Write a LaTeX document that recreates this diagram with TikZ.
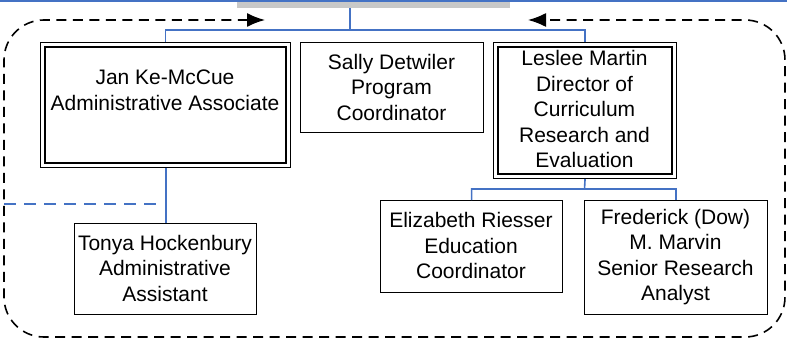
\documentclass[tikz,border=0pt]{standalone}
\usepackage{fontspec}
\setmainfont{Liberation Sans}
\usetikzlibrary{arrows.meta}
\definecolor{orgblue}{RGB}{68,114,196}
\definecolor{topgray}{RGB}{200,200,200}
\begin{document}
\begin{tikzpicture}[x=1pt,y=-1pt,
  box/.style={draw=black,line width=1.1pt,inner sep=0pt,anchor=north west},
  innerframe/.style={draw=black,line width=1.6pt},
  txt/.style={align=center,inner sep=0pt,font=\fontsize{21}{25.5}\selectfont},
  link/.style={draw=orgblue,line width=1.6pt},
  bluedash/.style={draw=orgblue,line width=1.5pt,dash pattern=on 12pt off 8pt},
  fbloop/.style={draw=black,line width=1.6pt,dash pattern=on 10pt off 6.5pt,rounded corners=40pt}
]
\useasboundingbox (0,0) rectangle (787,350);

% parent (cropped) and top rule
\node[fill=topgray,inner sep=0pt,minimum width=273pt,minimum height=8pt,anchor=north west] (parent) at (237,0) {};
\coordinate (tl) at (0,1);
\coordinate (tr) at (787,1);
\draw[link,line width=2pt] (tl) -- (tr);

% boxes
\node[box,minimum width=250pt,minimum height=125pt] (jan) at (40,42) {};
\draw[innerframe] ([xshift=5pt,yshift=-5pt]jan.north west) rectangle ([xshift=-5pt,yshift=5pt]jan.south east);
\node[box,minimum width=183pt,minimum height=90pt] (sally) at (300,42) {};
\node[box,minimum width=183pt,minimum height=136pt] (leslee) at (493,42) {};
\draw[innerframe] ([xshift=5pt,yshift=-5pt]leslee.north west) rectangle ([xshift=-5pt,yshift=5pt]leslee.south east);
\node[box,minimum width=182pt,minimum height=92pt] (eliz) at (380,200) {};
\node[box,minimum width=183pt,minimum height=114pt] (fred) at (584,200) {};
\node[box,minimum width=182pt,minimum height=91pt] (tonya) at (74,223) {};

% texts
\node[txt] (janT) at (165,90.5) {Jan Ke-McCue\\Administrative Associate};
\node[txt] (sallyT) at (391.5,87) {Sally Detwiler\\Program\\Coordinator};
\node[txt] (leslT) at (584.5,109) {Leslee Martin\\Director of\\Curriculum\\Research and\\Evaluation};
\node[txt] (elizT) at (471,245.5) {Elizabeth Riesser\\Education\\Coordinator};
\node[txt] (fredT) at (675.5,257) {Frederick (Dow)\\M. Marvin\\Senior Research\\Analyst};
\node[txt] (tonyaT) at (165,268) {Tonya Hockenbury\\Administrative\\Assistant};

% connectors
\coordinate (hub) at (350,30);
\draw[link] (parent.south -| hub) -- (hub) -| (jan.north);
\draw[link] (hub) -| (leslee.north);
\coordinate (lhub) at (584.5,189);
\draw[link] (leslee.south) -- (lhub) -| (eliz.north);
\draw[link] (lhub) -| (fred.north);
\draw[link,line width=2pt] (jan.south) -- (tonya.north);

\coordinate (dl) at (4,204);
\coordinate (dr) at (157,204);
\draw[bluedash] (dl) -- (dr);

% dashed feedback loop
\coordinate (ar) at (265,20);
\coordinate (al) at (528,20);
\draw[fbloop,{Latex[length=18pt,width=14pt]}-{Latex[length=18pt,width=14pt]}]
  (ar) -- (4,20) -- (4,337) -- (785,337) -- (785,20) -- (al);
\end{tikzpicture}
\end{document}
